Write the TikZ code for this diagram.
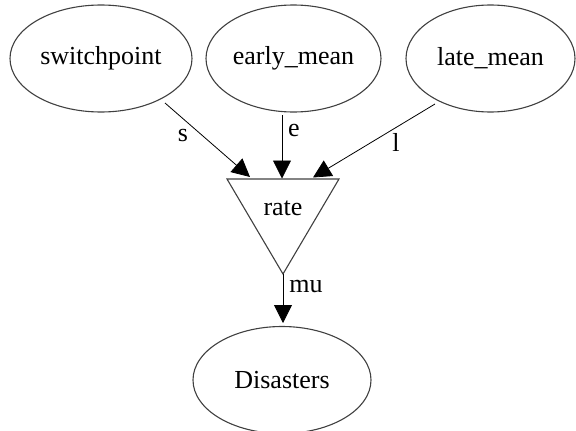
\documentclass[tikz,border=0pt]{standalone}
\usepackage{fontspec}
\setmainfont{Liberation Serif}
\usetikzlibrary{shapes.geometric,arrows.meta}
\begin{document}
\begin{tikzpicture}[x=1pt,y=-1pt,
  ell/.style={draw=black!75, line width=1.1pt, ellipse, inner sep=0pt, font=\fontsize{26}{30}\selectfont},
  lbl/.style={font=\fontsize{26}{30}\selectfont, inner sep=0pt},
  edgearrow/.style={draw=black, line width=0.8pt, -{Triangle[length=18pt,width=18pt]}},
  tri/.style={draw=black!75, line width=1.1pt, line join=miter}]
\useasboundingbox (0,0) rectangle (576,431);
% top nodes
\node[ell, minimum width=182pt, minimum height=107pt] (sw) at (101,58.5) {switchpoint};
\node[ell, minimum width=175pt, minimum height=107pt] (em) at (293.5,58.5) {early\_mean};
\node[ell, minimum width=169pt, minimum height=107pt] (lm) at (490.5,58.5) {late\_mean};
% rate triangle
\coordinate (tl) at (227,179);
\coordinate (tr) at (339,179);
\coordinate (ta) at (283,274);
\draw[tri] (tl) -- (tr) -- (ta) -- cycle;
\node[lbl] (rate) at (283,208) {rate};
% bottom node
\node[ell, minimum width=178pt, minimum height=107pt] (dis) at (282,380) {Disasters};
% edge endpoints
\coordinate (sws) at (165,103);
\coordinate (ems) at (282,115);
\coordinate (lms) at (435,104);
\coordinate (ts) at (250,177);
\coordinate (te) at (282,178.5);
\coordinate (tlt) at (313,177.5);
\coordinate (dtop) at (283,323);
% edges
\draw[edgearrow] (sws) -- (ts);
\draw[edgearrow] (ems) -- (te);
\draw[edgearrow] (lms) -- (tlt);
\draw[edgearrow] (ta) -- (dtop);
% labels
\node[lbl] (ls) at (183,135) {s};
\node[lbl] (le) at (294,131) {e};
\node[lbl] (ll) at (396,142) {l};
\node[lbl] (lmu) at (306,286) {mu};
\end{tikzpicture}
\end{document}
